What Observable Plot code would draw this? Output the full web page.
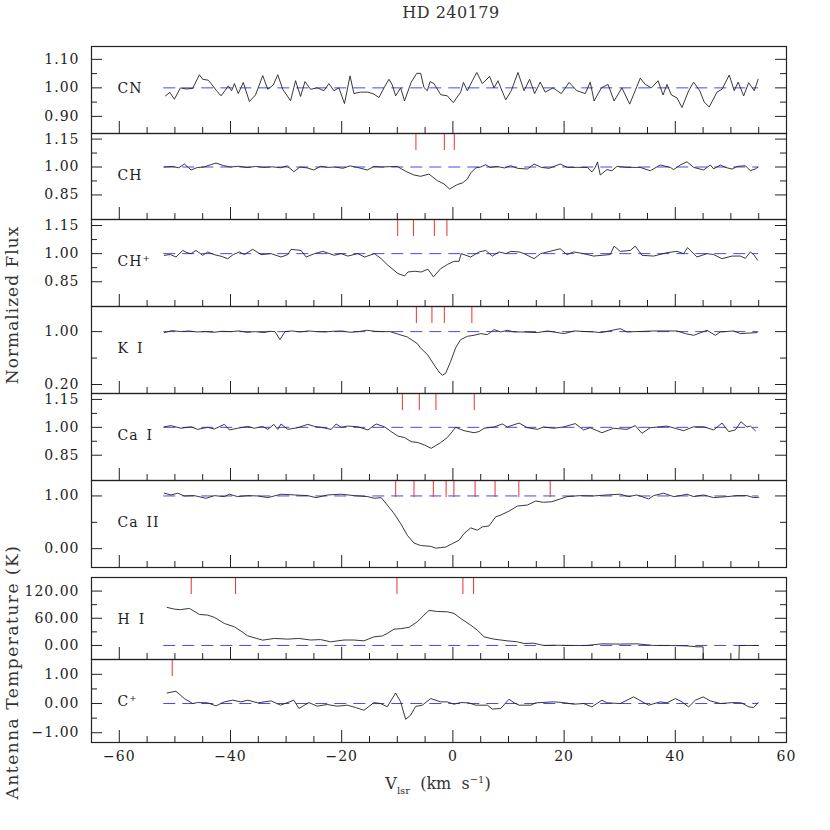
<!DOCTYPE html>
<html><head><meta charset="utf-8">
<script src="https://cdn.jsdelivr.net/npm/d3@7"></script>
<script src="https://cdn.jsdelivr.net/npm/@observablehq/plot@0.6"></script>
<style>
body{margin:0;background:#fff}
#wrap{position:relative;width:830px;height:830px;font-family:"DejaVu Serif",serif;color:#222}
.lab{position:absolute;white-space:nowrap;line-height:1}
</style>
</head><body><div id="wrap"></div>
<script>
// ---- data (velocity km/s, value) ----
const title = "HD 240179";
const xDomain = [-65, 60];
const contRange = [-52, 55];
const xMajor = [-60, -40, -20, 0, 20, 40, 60];
const xMinor = [-55,-50,-45,-35,-30,-25,-15,-10,-5,5,10,15,25,30,35,45,50,55];

const cnData = [[-51.7,0.972],[-50.9,0.984],[-50.1,0.96],[-49.0,1.0],[-48.0,0.996],[-46.8,0.998],[-45.6,1.046],[-45.0,1.03],[-44.0,1.027],[-43.5,1.015],[-42.5,0.99],[-41.7,0.972],[-41.0,0.99],[-40.4,1.007],[-39.8,0.99],[-39.3,1.015],[-38.6,0.98],[-37.7,1.019],[-36.6,0.952],[-35.5,0.975],[-34.2,1.043],[-33.3,0.995],[-32.3,1.01],[-31.5,1.046],[-30.6,0.995],[-29.2,0.955],[-28.3,1.025],[-27.4,0.97],[-26.6,1.022],[-25.6,0.995],[-24.4,1.0],[-23.2,0.99],[-22.3,1.015],[-21.4,0.99],[-20.5,1.0],[-19.5,0.945],[-18.5,1.042],[-17.8,0.98],[-16.6,0.985],[-15.3,0.985],[-14.2,0.978],[-13.3,0.966],[-12.4,1.0],[-11.5,1.03],[-10.9,1.01],[-10.3,0.972],[-9.4,1.0],[-8.7,0.954],[-7.5,1.02],[-6.5,1.051],[-5.8,1.051],[-5.2,1.001],[-4.6,0.99],[-4.1,1.022],[-3.4,1.015],[-2.2,0.976],[-1.0,0.972],[0.07,0.948],[1.4,0.985],[1.9,1.019],[2.6,0.99],[3.5,1.025],[4.3,1.054],[5.3,1.015],[6.6,1.04],[7.4,1.0],[8.1,1.025],[9.5,0.958],[10.5,0.99],[11.7,1.054],[12.8,0.99],[13.8,1.03],[14.7,0.98],[15.7,1.02],[16.6,0.985],[18.0,1.0],[19.5,0.98],[20.9,1.019],[22.3,0.99],[23.8,0.98],[24.7,1.02],[25.4,0.954],[26.7,1.0],[27.9,1.012],[29.0,0.954],[30.4,1.0],[31.8,0.943],[33.7,1.034],[34.6,1.012],[35.7,1.0],[36.9,1.025],[37.8,0.975],[38.5,1.012],[39.3,0.975],[40.3,0.965],[41.2,0.931],[42.4,0.99],[43.3,1.02],[44.4,0.99],[45.2,0.95],[46.1,0.933],[47.5,0.985],[48.4,0.995],[49.7,1.045],[50.6,0.99],[51.3,1.02],[52.3,0.972],[53.2,1.018],[54.2,0.99],[54.9,1.03]];

const chData = [[-51.9,1.0],[-50.5,1.003],[-49.3,0.996],[-48.3,1.016],[-47.7,1.0],[-47.1,0.984],[-46.0,0.997],[-44.8,1.0],[-43.6,1.012],[-42.6,1.021],[-41.3,1.008],[-40.0,1.0],[-38.5,1.004],[-37.0,0.997],[-35.5,1.003],[-34.0,0.998],[-32.5,1.001],[-31.0,0.996],[-29.8,1.006],[-28.6,0.975],[-27.5,1.0],[-26.2,0.995],[-25.0,0.984],[-23.8,1.004],[-22.5,0.998],[-21.2,1.0],[-19.8,0.993],[-18.5,1.006],[-17.2,0.998],[-15.4,0.984],[-14.2,1.003],[-12.8,1.0],[-11.3,1.002],[-10.0,1.003],[-8.5,0.977],[-7.0,0.957],[-5.8,0.95],[-4.3,0.962],[-2.8,0.927],[-1.6,0.909],[-0.6,0.882],[0.8,0.906],[1.7,0.914],[2.6,0.935],[3.2,0.968],[4.1,0.995],[5.0,1.0],[5.9,1.012],[6.7,0.998],[7.9,1.003],[9.3,0.995],[10.4,1.007],[11.6,0.993],[13.4,0.989],[14.6,1.016],[15.9,0.998],[17.3,0.993],[19.3,1.016],[20.6,0.998],[22.4,0.998],[24.2,0.998],[25.0,0.973],[25.6,0.998],[26.0,1.027],[26.5,0.957],[27.7,0.986],[28.6,0.98],[29.5,1.003],[31.3,0.998],[33.7,0.998],[35.5,0.98],[37.3,1.011],[39.1,0.998],[39.7,0.986],[40.9,1.011],[42.1,1.028],[43.3,0.998],[45.1,0.984],[46.3,1.011],[46.9,0.99],[48.1,1.011],[49.0,0.998],[50.2,0.989],[51.1,1.003],[52.6,1.007],[53.5,0.98],[54.4,0.99],[54.9,1.0]];

const chpData = [[-51.9,0.991],[-50.8,0.995],[-49.8,0.982],[-48.6,1.017],[-47.8,1.005],[-47.1,1.0],[-46.2,1.017],[-45.0,0.991],[-44.1,1.009],[-43.0,0.995],[-41.7,0.986],[-40.5,0.973],[-39.5,0.995],[-38.4,1.009],[-37.5,0.995],[-36.0,1.023],[-34.5,0.995],[-32.7,1.0],[-30.9,0.982],[-29.7,0.995],[-29.1,1.023],[-27.3,1.017],[-26.4,0.982],[-24.9,1.0],[-23.4,1.012],[-21.3,0.991],[-20.1,1.0],[-18.9,0.987],[-17.1,1.0],[-15.9,0.982],[-14.1,1.0],[-12.9,0.973],[-11.7,0.938],[-9.9,0.894],[-8.7,0.881],[-8.1,0.902],[-6.9,0.906],[-5.7,0.902],[-4.5,0.917],[-3.5,0.876],[-2.2,0.92],[-1.0,0.942],[0.2,0.959],[1.1,0.959],[1.5,1.0],[3.2,0.982],[4.7,1.009],[5.9,1.017],[7.1,0.987],[8.3,1.009],[9.5,1.0],[10.4,1.012],[11.9,1.009],[12.8,1.0],[14.6,0.973],[15.8,1.0],[19.3,1.026],[20.5,0.995],[21.7,1.009],[23.5,1.0],[25.3,0.987],[28.3,0.995],[29.0,1.04],[30.1,1.012],[31.9,1.017],[32.8,1.04],[34.0,0.991],[36.1,0.987],[38.5,1.005],[40.3,1.012],[41.5,1.0],[42.2,1.032],[43.9,0.982],[45.7,1.0],[46.9,0.995],[48.4,0.973],[50.2,0.987],[51.7,0.987],[52.6,0.975],[53.5,1.009],[54.1,0.995],[54.8,0.965]];

const kiData = [[-51.9,0.985],[-50.5,1.015],[-49.0,1.0],[-47.5,1.01],[-46.0,0.995],[-44.5,1.0],[-43.0,0.99],[-41.5,1.005],[-40.0,1.0],[-38.5,1.01],[-37.0,0.99],[-35.5,1.0],[-34.0,0.985],[-33.0,1.005],[-32.0,1.0],[-31.1,0.879],[-30.2,1.0],[-29.0,1.01],[-27.5,0.995],[-26.0,1.01],[-24.5,1.0],[-23.0,0.995],[-21.5,1.005],[-20.0,1.01],[-18.5,0.99],[-17.0,1.0],[-15.5,1.02],[-14.0,1.005],[-12.5,1.0],[-11.3,1.0],[-9.8,0.96],[-8.2,0.919],[-6.4,0.819],[-5.8,0.75],[-4.6,0.655],[-3.4,0.5],[-2.5,0.39],[-1.9,0.341],[-1.3,0.37],[-0.4,0.55],[0.5,0.756],[1.4,0.879],[2.6,0.929],[3.8,0.945],[5.0,0.97],[6.2,0.955],[7.4,1.03],[8.6,0.995],[9.8,1.02],[11.0,0.995],[12.2,0.995],[15.2,0.985],[17.0,1.01],[20.0,0.97],[21.8,1.01],[25.4,0.995],[26.6,0.985],[30.1,1.045],[31.3,0.995],[36.1,1.01],[40.3,1.01],[41.8,0.97],[43.3,0.944],[45.7,1.02],[47.2,0.944],[48.1,0.995],[50.5,1.01],[51.7,0.97],[54.7,0.985]];

const caiData = [[-51.9,1.003],[-50.7,1.009],[-48.9,0.995],[-47.1,1.003],[-45.9,0.989],[-44.1,1.0],[-42.9,0.991],[-41.1,1.016],[-40.2,0.986],[-38.7,0.995],[-36.9,1.005],[-35.7,0.995],[-34.2,1.005],[-33.3,0.989],[-32.2,1.016],[-31.5,0.989],[-30.9,1.018],[-29.7,0.989],[-27.9,0.998],[-26.1,1.016],[-24.9,1.005],[-23.7,1.0],[-21.9,0.989],[-21.0,1.018],[-20.1,1.0],[-18.9,1.007],[-17.1,1.003],[-15.3,0.986],[-13.8,1.018],[-12.3,1.003],[-11.1,0.977],[-9.9,0.953],[-8.7,0.945],[-7.5,0.923],[-6.3,0.918],[-5.1,0.905],[-3.9,0.887],[-2.2,0.918],[-1.0,0.945],[0.5,1.0],[2.0,0.982],[3.8,0.971],[4.7,0.977],[5.6,0.995],[7.4,1.002],[8.9,1.018],[9.8,1.002],[11.9,1.023],[13.4,0.998],[15.2,0.989],[16.3,1.002],[18.1,0.995],[19.9,1.002],[22.0,1.02],[23.5,0.986],[24.7,0.998],[26.8,0.971],[28.9,0.995],[31.3,0.989],[32.8,1.009],[34.0,0.968],[35.5,0.998],[38.5,1.007],[41.5,0.982],[43.3,1.003],[45.1,1.003],[46.9,0.986],[48.4,1.023],[49.6,0.977],[50.8,0.986],[51.8,1.03],[52.9,1.002],[53.5,1.007],[54.4,0.982]];

const caiiData = [[-51.9,1.052],[-50.7,1.019],[-49.5,1.052],[-48.3,1.0],[-46.5,1.006],[-44.4,0.955],[-42.9,1.006],[-41.1,0.987],[-40.2,1.033],[-38.7,0.987],[-36.9,1.006],[-35.1,1.0],[-33.3,0.968],[-30.9,1.033],[-28.5,1.019],[-26.1,1.006],[-24.6,0.968],[-22.5,1.019],[-20.1,1.033],[-17.7,1.006],[-15.3,0.987],[-14.1,0.955],[-12.9,0.968],[-11.8,0.828],[-10.6,0.669],[-9.4,0.478],[-8.2,0.254],[-7.0,0.107],[-5.8,0.06],[-4.0,0.044],[-3.1,0.011],[-2.2,0.02],[-1.3,0.031],[-0.1,0.096],[1.1,0.159],[2.0,0.287],[3.2,0.394],[4.4,0.35],[5.3,0.413],[6.5,0.432],[7.7,0.604],[8.6,0.637],[10.1,0.713],[11.6,0.809],[13.4,0.828],[14.9,0.904],[16.3,0.879],[17.8,0.891],[19.3,0.943],[20.5,0.987],[22.9,1.006],[25.3,1.0],[27.7,1.019],[30.1,1.033],[31.6,0.987],[33.1,1.019],[35.2,0.943],[36.1,1.006],[37.9,1.052],[39.7,0.987],[40.9,1.006],[42.1,1.033],[43.3,0.987],[45.1,1.019],[46.9,0.968],[49.3,0.987],[51.1,1.006],[52.9,1.006],[54.1,0.968],[55.0,0.975]];

const hiData = [[-51.4,84],[-50.1,80.2],[-49.0,79],[-47.4,81.8],[-45.6,68.5],[-44.1,67],[-42.9,62],[-41.1,48.6],[-39.3,41.1],[-38.1,31.6],[-36.9,21.2],[-34.2,11.7],[-32.1,15.5],[-29.7,14],[-27.7,15.5],[-25.6,12],[-23.8,13],[-22.0,8],[-19.6,12],[-17.8,12],[-16.0,10.2],[-14.2,19],[-12.7,21],[-11.8,26.5],[-10.6,36],[-9.4,37],[-7.9,40],[-6.4,52.2],[-5.2,67],[-4.3,77.3],[-2.8,75],[-1.0,74.3],[0.2,70.7],[1.4,59.6],[3.2,44.9],[4.4,33.8],[5.6,19],[7.4,13.9],[9.8,10.2],[11.6,8],[12.8,4.4],[14.6,5],[16.3,0],[18.1,0.5],[21.1,0],[24.1,0],[26.8,3.6],[30.1,3],[33.1,3.6],[36.1,0],[39.1,0],[42.1,-1],[43.9,-3],[45.0,-3],[45.1,-60],[51.4,-60],[51.5,0],[55.0,0]];

const cpData = [[-51.4,0.362],[-49.8,0.42],[-48.3,0.17],[-46.8,0.0],[-45.9,0.034],[-44.1,0.023],[-42.6,-0.08],[-41.1,0.057],[-39.6,0.114],[-38.1,0.057],[-36.9,0.114],[-35.1,0.023],[-32.7,0.09],[-31.0,-0.057],[-28.6,0.114],[-27.7,-0.17],[-25.9,0.034],[-24.4,-0.091],[-22.6,-0.034],[-20.8,-0.091],[-19.0,-0.057],[-17.5,-0.137],[-16.0,-0.23],[-14.2,0.03],[-13.0,0.0],[-11.8,-0.11],[-10.3,0.36],[-9.4,0.057],[-8.5,-0.54],[-7.6,-0.4],[-6.7,-0.1],[-5.5,-0.057],[-4.0,0.17],[-2.2,0.057],[-1.0,0.057],[0.2,-0.023],[1.4,0.034],[2.9,0.023],[4.1,-0.057],[6.2,-0.057],[7.1,-0.19],[8.6,-0.17],[10.1,0.148],[11.0,0.023],[11.9,-0.057],[14.0,-0.057],[14.9,0.023],[18.1,0.057],[19.9,0.034],[21.7,-0.023],[23.5,0.0],[25.0,-0.114],[26.8,0.114],[27.7,0.023],[30.1,0.0],[32.5,0.227],[35.2,-0.057],[37.3,0.057],[38.5,0.023],[40.0,0.17],[41.2,0.057],[42.4,-0.114],[43.6,0.114],[45.0,0.227],[46.3,0.09],[48.1,0.0],[50.5,0.034],[51.9,0.023],[53.2,-0.114],[54.1,-0.137],[54.9,0.034]];

// component velocities (red markers)
const cnComp = [];
const chComp = [-6.65, -1.54, 0.25];
const chpComp = [-9.93, -7.1, -3.34, -1.08];
const kiComp = [-6.57, -3.77, -1.54, 3.41];
const caiComp = [-9.09, -6.04, -3.05, 3.84];
const caiiComp = [-10.29, -7.0, -3.52, -1.22, 0.18, 3.99, 7.58, 11.86, 17.5];
const hiComp = [-47.06, -39.09, -10.06, 1.80, 3.72];
const cpComp = [-50.48];

// y ticks per panel
const yTicksFlux15 = [1.15, 1.00, 0.85], yMinorFlux15 = [1.075, 0.925];
const yTicksCN = [1.10, 1.00, 0.90], yMinorCN = [1.05, 0.95];
const yTicksKI = [1.00, 0.20], yMinorKI = [0.60];
const yTicksCaII = [1.00, 0.00], yMinorCaII = [0.50];
const yTicksHI = [120, 60, 0], yMinorHI = [90, 30];
const yTicksCp = [1.00, 0.00, -1.00], yMinorCp = [0.5, -0.5];

// ---- layout ----
const W = 830, ML = 91, MR = 44, FW = W - ML - MR;
const BLUE = "#4848ee", RED = "#ee3030", INK = "#222";
const fmt2 = d3.format(".2f");

const panels = [
  {label: "CN", top: 46, h: 87, domain: [0.84, 1.145], data: cnData, cont: 1, comps: cnComp, majors: yTicksCN, minors: yMinorCN},
  {label: "CH", top: 133, h: 86, domain: [0.718, 1.18], data: chData, cont: 1, comps: chComp, majors: yTicksFlux15, minors: yMinorFlux15},
  {label: "CH\u207A", top: 219, h: 87, domain: [0.718, 1.182], data: chpData, cont: 1, comps: chpComp, majors: yTicksFlux15, minors: yMinorFlux15},
  {label: "K\u2002I", top: 306, h: 87, domain: [0.064, 1.38], data: kiData, cont: 1, comps: kiComp, majors: yTicksKI, minors: yMinorKI},
  {label: "Ca\u2002I", top: 393, h: 87, domain: [0.714, 1.182], data: caiData, cont: 1, comps: caiComp, majors: yTicksFlux15, minors: yMinorFlux15},
  {label: "Ca\u2002II", top: 480, h: 87, domain: [-0.357, 1.293], data: caiiData, cont: 1, comps: caiiComp, majors: yTicksCaII, minors: yMinorCaII},
  {label: "H\u2002I", top: 577, h: 82, domain: [-31, 150], data: hiData, cont: 0, comps: hiComp, majors: yTicksHI, minors: yMinorHI},
  {label: "C\u207A", top: 659, h: 83, domain: [-1.334, 1.507], data: cpData, cont: 0, comps: cpComp, majors: yTicksCp, minors: yMinorCp, bottom: true}
];

const wrap = document.getElementById("wrap");

for (const p of panels) {
  const mt = 10, mb = p.bottom ? 40 : 10;
  const marks = [
    Plot.ruleY([p.cont], {x1: contRange[0], x2: contRange[1], stroke: BLUE, strokeWidth: 1, strokeDasharray: "12,7"}),
    Plot.line(p.data, {x: d => d[0], y: d => d[1], stroke: INK, strokeWidth: 0.9, clip: true}),
    Plot.tickX(p.comps, {x: d => d, insetBottom: p.h - 17, stroke: RED, strokeWidth: 1}),
    Plot.tickX(xMajor, {x: d => d, insetTop: p.h - 12, stroke: INK}),
    Plot.tickX(xMinor, {x: d => d, insetTop: p.h - 6, stroke: INK}),
    Plot.tickY(p.majors, {y: d => d, insetRight: FW - 11, stroke: INK}),
    Plot.tickY(p.majors, {y: d => d, insetLeft: FW - 11, stroke: INK}),
    Plot.tickY(p.minors, {y: d => d, insetRight: FW - 6, stroke: INK}),
    Plot.tickY(p.minors, {y: d => d, insetLeft: FW - 6, stroke: INK}),
    Plot.axisY(p.majors, {anchor: "left", tickSize: 0, tickPadding: 12, tickFormat: fmt2, label: null}),
    Plot.text([p.label], {frameAnchor: "top-left", dx: 26, dy: 46, textAnchor: "start", lineAnchor: "bottom", fill: INK}),
    Plot.frame({stroke: INK, strokeWidth: 1.2})
  ];
  if (p.bottom) marks.push(Plot.axisX(xMajor, {anchor: "bottom", tickSize: 0, tickPadding: 9, label: null}));
  const svg = Plot.plot({
    width: W, height: p.h + mt + mb,
    marginTop: mt, marginBottom: mb, marginLeft: ML, marginRight: MR,
    x: {domain: xDomain, axis: null},
    y: {domain: p.domain, axis: null},
    style: {fontFamily: "DejaVu Serif, serif", fontSize: "14px", letterSpacing: "1px", color: INK, background: "transparent", overflow: "visible"},
    marks
  });
  svg.style.position = "absolute";
  svg.style.left = "0px";
  svg.style.top = (p.top - mt) + "px";
  wrap.appendChild(svg);
}

function addLabel(html, css) {
  const d = document.createElement("div");
  d.className = "lab";
  d.innerHTML = html;
  Object.assign(d.style, css);
  wrap.appendChild(d);
}
addLabel(title, {left: "451px", top: "5px", transform: "translateX(-50%)", fontSize: "16px", letterSpacing: "0.5px", color: "#333"});
addLabel("V<sub style='font-size:10px'>lsr</sub>&nbsp;&nbsp;(km&nbsp;&nbsp;s<sup style='font-size:10px'>\u22121</sup>)", {left: "438px", top: "775px", transform: "translateX(-50%)", fontSize: "16px", color: "#333"});
addLabel("Normalized Flux", {left: "12px", top: "305px", transform: "translate(-50%,-50%) rotate(-90deg)", fontSize: "17px", letterSpacing: "1px", color: "#333"});
addLabel("Antenna Temperature (K)", {left: "12px", top: "672px", transform: "translate(-50%,-50%) rotate(-90deg)", fontSize: "17px", letterSpacing: "1.5px", color: "#333"});
</script>
</body></html>
